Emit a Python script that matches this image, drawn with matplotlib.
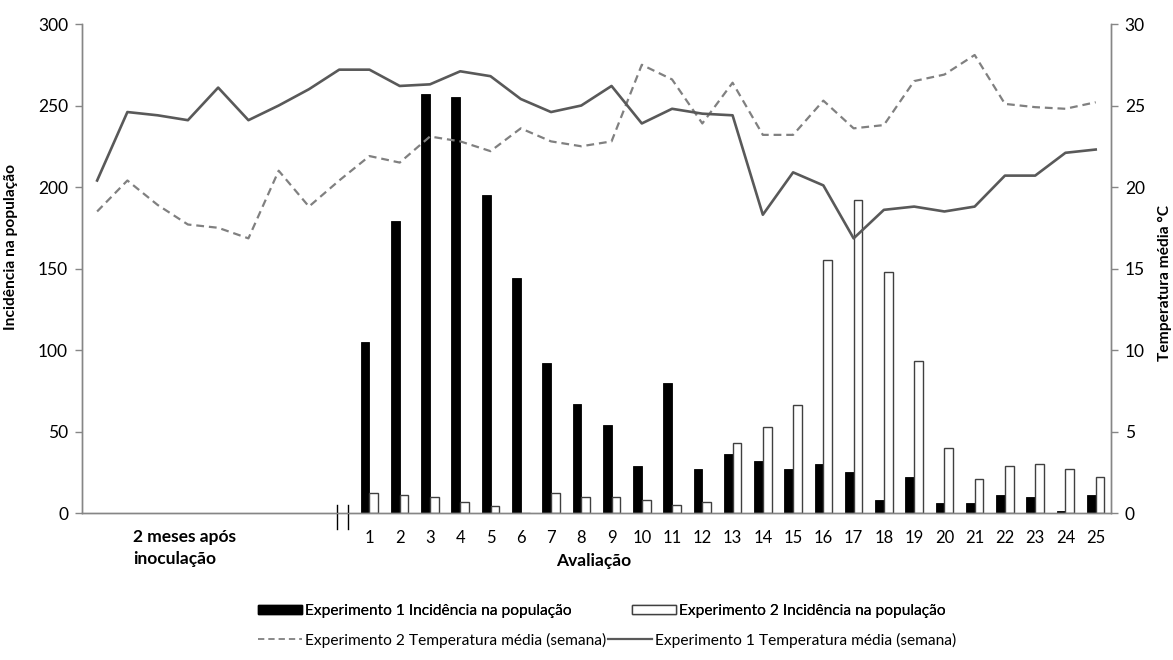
import matplotlib
matplotlib.use("Agg")
import matplotlib.pyplot as plt
from matplotlib.patches import Patch
from matplotlib.lines import Line2D
import numpy as np

plt.rcParams['font.family'] = ['Lato', 'DejaVu Sans']

# ---- data ----
n_pre = 9  # weekly points before first evaluation ("2 meses após inoculação")
evaluations = [str(i) for i in range(1, 26)]
exp1_incidence = [105, 179, 257, 255, 195, 144, 92, 67, 54, 29, 80, 27, 36, 32,
                  27, 30, 25, 8, 22, 6, 6, 11, 10, 1, 11]
exp2_incidence = [12, 11, 10, 7, 4, 0, 12, 10, 10, 8, 5, 7, 43, 53,
                  66, 155, 192, 148, 93, 40, 21, 29, 30, 27, 22]
exp1_temp = [20.4, 24.6, 24.4, 24.1, 26.1, 24.1, 25.0, 26.0, 27.2,
             27.2, 26.2, 26.3, 27.1, 26.8, 25.4, 24.6, 25.0, 26.2, 23.9, 24.8,
             24.5, 24.4, 18.3, 20.9, 20.1, 16.85, 18.6, 18.8, 18.5, 18.8, 20.7,
             20.7, 22.1, 22.3]
exp2_temp = [18.5, 20.4, 18.9, 17.7, 17.5, 16.85, 21.0, 18.8, 20.4,
             21.9, 21.5, 23.1, 22.8, 22.2, 23.6, 22.8, 22.5, 22.8, 27.5, 26.6,
             23.9, 26.4, 23.2, 23.2, 25.3, 23.6, 23.8, 26.5, 26.9, 28.1, 25.1,
             24.9, 24.8, 25.2]

lbl_b1 = "Experimento 1 Incidência na população"
lbl_b2 = "Experimento 2 Incidência na população"
lbl_l2 = "Experimento 2 Temperatura média (semana)"
lbl_l1 = "Experimento 1 Temperatura média (semana)"

# ---- figure ----
fig = plt.figure(figsize=(11.73, 6.6), dpi=100)
ax = fig.add_axes([0.0699, 0.2227, 0.8771, 0.7409])
ax2 = ax.twinx()

ncat = n_pre + len(evaluations)
xall = np.arange(ncat)
xe = np.arange(n_pre, ncat)
bw = 0.29
ax.bar(xe - bw / 2, exp1_incidence, width=bw, color='black', edgecolor='black',
       linewidth=0.6, zorder=2)
ax.bar(xe + bw / 2, exp2_incidence, width=bw, color='white', edgecolor='#404040',
       linewidth=1.0, zorder=2)

dash_style = (0, (3.5, 2.2))
ax2.plot(xall, exp2_temp, color='#808080', linestyle=dash_style, linewidth=1.6)
ax2.plot(xall, exp1_temp, color='#595959', linestyle='-', linewidth=1.9)

ax.set_xlim(-0.5, ncat - 0.5)
ax.set_ylim(0, 300)
ax2.set_ylim(0, 30)
ax.set_yticks(np.arange(0, 301, 50))
ax2.set_yticks(np.arange(0, 31, 5))

ax.set_xticks(xe)
ax.set_xticklabels(evaluations)

grey = '#868686'
for a in (ax, ax2):
    a.spines['top'].set_visible(False)
    for s in ('left', 'right', 'bottom'):
        a.spines[s].set_color(grey)
        a.spines[s].set_linewidth(1.0)
ax.tick_params(axis='x', length=0, pad=12, labelsize=12, colors='black')
ax.tick_params(axis='y', length=5, color=grey, width=1, labelsize=12.5, pad=5)
ax2.tick_params(axis='y', length=5, color=grey, width=1, labelsize=12.5, pad=5)

ax.set_ylabel("Incidência na população", fontsize=11.2, fontweight='bold')
ax.yaxis.set_label_coords(-0.062, 0.544)
ax2.set_ylabel("Temperatura média °C", fontsize=11.2, fontweight='bold', rotation=90)
ax2.yaxis.set_label_coords(1.0455, 0.47)

# axis break marks
for xb in (7.93, 8.29):
    ax.plot([xb, xb], [5, -10], color='black', linewidth=1.0, clip_on=False, zorder=5)

fig.text(133 / 1173, 1 - 548 / 660, "2 meses após\ninoculação", fontsize=12.5,
         fontweight='bold', ha='left', va='center', linespacing=1.45)
fig.text(594 / 1173, 1 - 561 / 660, "Avaliação", fontsize=12.5, fontweight='bold',
         ha='center', va='center')

h_b1 = Patch(facecolor='black', edgecolor='black')
h_b2 = Patch(facecolor='white', edgecolor='#404040')
h_l2 = Line2D([], [], color='#808080', linestyle=dash_style, linewidth=1.3)
h_l1 = Line2D([], [], color='#595959', linewidth=1.6)

common = dict(loc='center left', ncol=2, frameon=False, fontsize=11.2,
              handlelength=2.8, handleheight=0.6, handletextpad=0.2,
              borderpad=0, borderaxespad=0)
leg1 = fig.legend([h_b1, h_b2], [lbl_b1, lbl_b2],
                  bbox_to_anchor=(258 / 1173, 1 - 611 / 660),
                  columnspacing=3.9, **common)
fig.add_artist(leg1)
fig.legend([h_l2, h_l1], [lbl_l2, lbl_l1],
           bbox_to_anchor=(258 / 1173, 1 - 640 / 660),
           columnspacing=0.15, **common)

fig.savefig("out.png", dpi=100)
